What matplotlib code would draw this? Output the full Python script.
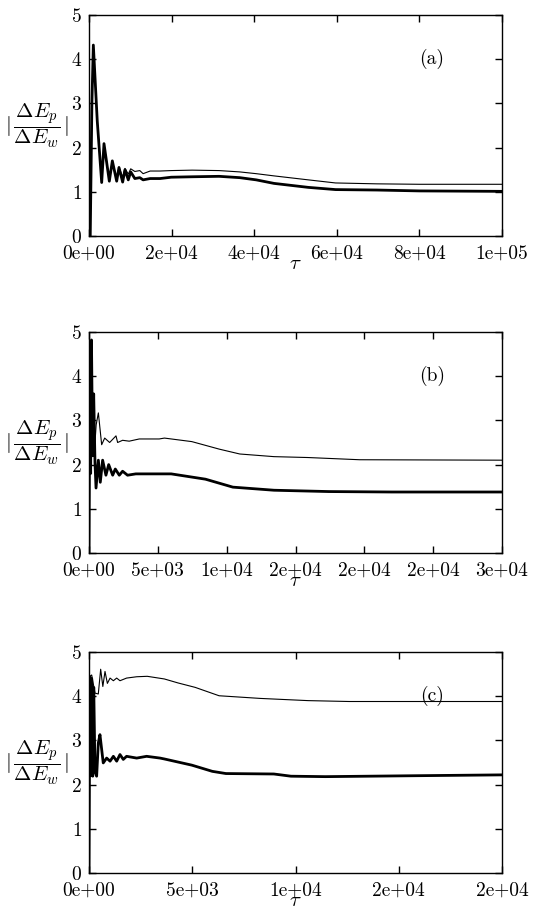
import numpy as np
import matplotlib
matplotlib.use('Agg')
import matplotlib.pyplot as plt
from matplotlib.ticker import FormatStrFormatter, MultipleLocator

plt.rcParams['font.family'] = ['cmr10', 'DejaVu Serif']
plt.rcParams['mathtext.fontset'] = 'cm'
plt.rcParams['axes.formatter.use_mathtext'] = True

# panel (a): tau up to 1e5
a_x_thick = [0, 300, 700, 1050, 2000, 3070, 3630, 4920, 5650, 6700, 7260, 8150, 8710, 9510,
             10100, 11100, 12300, 13100, 14800, 17200, 19900, 25000, 31500, 36500, 40500, 44800,
             53100, 59700, 69700, 80000, 100000]
a_y_thick = [0.0, 0.0, 3.0, 4.32, 2.6, 1.21, 2.09, 1.24, 1.70, 1.24, 1.55, 1.22, 1.50, 1.27,
             1.45, 1.30, 1.32, 1.27, 1.30, 1.30, 1.33, 1.34, 1.35, 1.32, 1.27, 1.19,
             1.10, 1.05, 1.04, 1.02, 1.01]
a_x_thin = [0, 300, 700, 1050, 2000, 3070, 3630, 4920, 5650, 6700, 7260, 8150, 8710, 9510,
            10100, 11100, 12300, 13100, 14800, 17200, 19900, 25000, 31500, 36500, 40500, 44800,
            53100, 59700, 69700, 80000, 100000]
a_y_thin = [0.0, 0.0, 3.0, 4.30, 2.6, 1.23, 2.07, 1.28, 1.68, 1.30, 1.56, 1.33, 1.53, 1.40,
            1.52, 1.46, 1.48, 1.41, 1.47, 1.47, 1.48, 1.49, 1.48, 1.45, 1.41, 1.36,
            1.27, 1.20, 1.18, 1.17, 1.17]

# panel (b): tau up to 3e4
b_x_thick = [0, 60, 120, 180, 260, 340, 435, 510, 680, 820, 990, 1230, 1430, 1720, 1910,
             2200, 2440, 2800, 3400, 5100, 5970, 8460, 10450, 13440, 17420, 22000, 30000]
b_y_thick = [0.0, 4.0, 1.8, 4.82, 2.2, 3.6, 2.04, 1.47, 2.10, 1.60, 2.10, 1.76, 2.00, 1.76, 1.90,
             1.76, 1.85, 1.76, 1.79, 1.79, 1.79, 1.67, 1.49, 1.42, 1.39, 1.38, 1.38]
b_x_thin = [0, 60, 120, 180, 260, 340, 435, 520, 680, 920, 1140, 1500, 1960, 2080, 2440,
            2920, 3650, 5100, 5480, 7470, 9460, 10950, 13440, 15900, 19660, 30000]
b_y_thin = [0.0, 4.0, 2.0, 4.6, 2.6, 3.4, 2.5, 2.9, 3.17, 2.45, 2.60, 2.50, 2.65, 2.50, 2.55,
            2.53, 2.58, 2.58, 2.60, 2.52, 2.35, 2.24, 2.18, 2.16, 2.11, 2.10]

# panel (c): tau up to 2e4
c_x_thick = [0, 40, 90, 130, 180, 230, 290, 370, 450, 530, 690, 855, 1020, 1180, 1340, 1500,
             1660, 1820, 2310, 2790, 3440, 3650, 4980, 5970, 6630, 8950, 9780, 11440, 15590, 20000]
c_y_thick = [0.0, 4.44, 2.2, 4.4, 2.19, 4.2, 2.3, 2.19, 2.94, 3.13, 2.49, 2.60, 2.53, 2.64, 2.53,
             2.68, 2.57, 2.64, 2.60, 2.64, 2.60, 2.58, 2.44, 2.30, 2.25, 2.24, 2.19, 2.18, 2.20, 2.22]
c_x_thin = [0, 40, 130, 290, 450, 565, 670, 775, 890, 1020, 1180, 1340, 1500, 1820, 2310,
            2820, 3650, 4310, 5140, 6300, 8290, 10610, 12600, 20000]
c_y_thin = [4.0, 4.45, 4.48, 4.07, 4.05, 4.61, 4.22, 4.56, 4.29, 4.41, 4.35, 4.41, 4.35, 4.41, 4.44,
            4.45, 4.39, 4.30, 4.20, 4.01, 3.95, 3.90, 3.88, 3.88]

panels = [
    ('(a)', a_x_thin, a_y_thin, a_x_thick, a_y_thick, 1e5, 2e4),
    ('(b)', b_x_thin, b_y_thin, b_x_thick, b_y_thick, 3e4, 5e3),
    ('(c)', c_x_thin, c_y_thin, c_x_thick, c_y_thick, 2e4, 5e3),
]

fig = plt.figure(figsize=(5.38, 9.09), dpi=100)
left, width = 89 / 538, 413 / 538
tops = [15, 332, 652]
height_px = 221

for (tag, xt, yt, xk, yk, xmax, step), top in zip(panels, tops):
    bottom = 1 - (top + height_px) / 909
    ax = fig.add_axes([left, bottom, width, height_px / 909])
    ax.plot(xt, yt, color='black', lw=0.8)
    ax.plot(xk, yk, color='black', lw=2.0)
    ax.set_xlim(0, xmax)
    ax.set_ylim(0, 5)
    ax.xaxis.set_major_locator(MultipleLocator(step))
    ax.xaxis.set_major_formatter(FormatStrFormatter('%.0e'))
    ax.yaxis.set_major_locator(MultipleLocator(1))
    ax.tick_params(direction='in', top=True, right=True, length=5, width=1,
                   labelsize=14)
    ax.tick_params(axis='x', pad=6)
    ax.tick_params(axis='y', pad=5)
    for s in ax.spines.values():
        s.set_linewidth(1.0)
    ax.set_xlabel(r'$\tau$', fontsize=15, labelpad=-5)
    ax.set_ylabel(r'$|\,\dfrac{\Delta E_p}{\Delta E_w}\,|$', fontsize=15, rotation=0,
                  va='center', ha='center')
    ax.yaxis.set_label_coords(-0.125, 0.5)
    ax.text(0.83, 0.80, tag, transform=ax.transAxes, fontsize=14,
            ha='center', va='center')

fig.savefig('out.png', dpi=100)
